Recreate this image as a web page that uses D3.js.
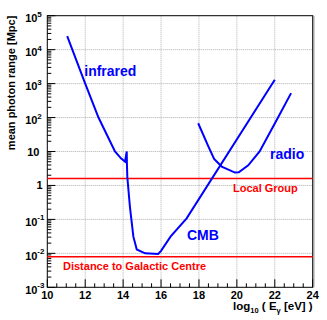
<!DOCTYPE html>
<html>
<head>
<meta charset="utf-8">
<script src="https://cdn.jsdelivr.net/npm/d3@7"></script>
<style>
  body { margin: 0; background: #fff; }
  svg { display: block; font-family: "Liberation Sans", Arial, sans-serif; font-weight: bold; }
</style>
</head>
<body>
<div id="chart"></div>
<script>
// log10(E) in eV and mean photon range in Mpc
const mainE = [11.05, 12.0, 12.7, 13.57, 13.9, 14.1, 14.19, 14.2, 14.22, 14.36, 14.54, 14.72, 15.16, 15.85, 16.0, 16.5, 17.35, 22.0];
const mainRange = [2.5e4, 1.0e3, 100, 10, 6.2, 5.0, 10, 4.5, 1.8, 0.23, 0.031, 0.013, 0.010, 0.0096, 0.0118, 0.031, 0.107, 1300];
const radioE = [17.96, 18.5, 18.8, 19.2, 19.9, 20.1, 20.6, 21.2, 22.1, 22.86];
const radioRange = [68, 14, 6, 3.6, 2.4, 2.45, 3.9, 10, 85, 525];

const refLines = [
  { value: 1.6, label: "Local Group", lx: 233, dy: 13 },
  { value: 0.008, label: "Distance to Galactic Centre", lx: 63, dy: 13 }
];
const bandLabels = [
  { text: "infrared", e: 11.95, v: 1660 },
  { text: "CMB", e: 17.37, v: 0.0245 },
  { text: "radio", e: 21.75, v: 5.9 }
];

const xTicks = [10, 12, 14, 16, 18, 20, 22, 24];
const yExps = [-3, -2, -1, 0, 1, 2, 3, 4, 5];

const W = 327, H = 320;
const pLeft = 47.3, pRight = 312.7, pTop = 15.7, pBottom = 287.3;

const x = d3.scaleLinear().domain([10, 24]).range([pLeft, pRight]);
const y = d3.scaleLog().domain([1e-3, 1e5]).range([pBottom, pTop]);

const svg = d3.select("#chart").append("svg")
    .attr("width", W)
    .attr("height", H);

// grid
xTicks.slice(1, -1).forEach(t => {
    svg.append("line")
        .attr("x1", x(t)).attr("x2", x(t))
        .attr("y1", pTop).attr("y2", pBottom)
        .attr("stroke", "#b0b0b0").attr("stroke-dasharray", "1,1");
});
yExps.slice(1, -1).forEach(e => {
    svg.append("line")
        .attr("x1", pLeft).attr("x2", pRight)
        .attr("y1", y(Math.pow(10, e))).attr("y2", y(Math.pow(10, e)))
        .attr("stroke", "#b0b0b0").attr("stroke-dasharray", "1,1");
});

// x ticks (inside, pointing up)
d3.range(10, 24.01, 0.5).forEach(t => {
    const major = Math.abs(t % 2) < 1e-6;
    svg.append("line")
        .attr("x1", x(t)).attr("x2", x(t))
        .attr("y1", pBottom).attr("y2", pBottom - (major ? 8 : 4))
        .attr("stroke", "#000");
});
xTicks.forEach(t => {
    svg.append("text")
        .attr("x", x(t)).attr("y", 298.5)
        .attr("text-anchor", "middle")
        .style("font-size", "11px")
        .text(t);
});

// y ticks (inside, pointing right)
yExps.forEach(e => {
    const base = Math.pow(10, e);
    svg.append("line")
        .attr("x1", pLeft).attr("x2", pLeft + 8)
        .attr("y1", y(base)).attr("y2", y(base))
        .attr("stroke", "#000");
    if (e < 5) {
        d3.range(2, 10).forEach(m => {
            svg.append("line")
                .attr("x1", pLeft).attr("x2", pLeft + 4)
                .attr("y1", y(base * m)).attr("y2", y(base * m))
                .attr("stroke", "#000");
        });
    }
    const yy = y(base);
    if (e === 0 || e === 1) {
        svg.append("text")
            .attr("x", e === 0 ? 42.5 : 39.5).attr("y", yy + 4)
            .attr("text-anchor", "end")
            .style("font-size", "11px")
            .text(e === 0 ? "1" : "10");
    } else {
        svg.append("text")
            .attr("x", 37.5).attr("y", yy + 6.5)
            .attr("text-anchor", "end")
            .style("font-size", "11px")
            .text("10");
        svg.append("text")
            .attr("x", 37.3).attr("y", yy + 1)
            .attr("text-anchor", "start")
            .style("font-size", "8px")
            .text(e < 0 ? "-" + (-e) : e);
    }
});

// frame
svg.append("rect")
    .attr("x", pLeft).attr("y", pTop)
    .attr("width", pRight - pLeft).attr("height", pBottom - pTop)
    .attr("fill", "none").attr("stroke", "#000");
svg.append("line")
    .attr("x1", pRight + 1.2).attr("x2", pRight + 1.2)
    .attr("y1", pTop).attr("y2", pBottom)
    .attr("stroke", "#888");

// axis titles
svg.append("text")
    .attr("transform", "translate(15," + pTop + ") rotate(-90)")
    .attr("text-anchor", "end")
    .style("font-size", "11px")
    .text("mean photon range [Mpc]");

const xt = svg.append("text")
    .attr("x", pRight).attr("y", 309.5)
    .attr("text-anchor", "end")
    .style("font-size", "11.5px");
xt.append("tspan").text("log");
xt.append("tspan").attr("dy", 3).style("font-size", "7.5px").text("10");
xt.append("tspan").attr("dy", -3).text(" ( E");
xt.append("tspan").attr("dy", 3).style("font-size", "7.5px").text("γ");
xt.append("tspan").attr("dy", -3).text(" [eV] )");

// reference distances
refLines.forEach(r => {
    svg.append("line")
        .attr("x1", pLeft).attr("x2", pRight)
        .attr("y1", y(r.value)).attr("y2", y(r.value))
        .attr("stroke", "#ff0000").attr("stroke-width", 1.5);
    svg.append("text")
        .attr("x", r.lx).attr("y", y(r.value) + r.dy)
        .attr("fill", "#ff0000")
        .style("font-size", "11px")
        .text(r.label);
});

// curves
const line = d3.line()
    .x(d => x(d[0]))
    .y(d => y(d[1]));

svg.append("path")
    .datum(d3.zip(mainE, mainRange))
    .attr("fill", "none").attr("stroke", "#0000ff").attr("stroke-width", 2)
    .attr("d", line);
svg.append("path")
    .datum(d3.zip(radioE, radioRange))
    .attr("fill", "none").attr("stroke", "#0000ff").attr("stroke-width", 2)
    .attr("d", line);

bandLabels.forEach(b => {
    svg.append("text")
        .attr("x", x(b.e)).attr("y", y(b.v))
        .attr("fill", "#0000ff")
        .style("font-size", "14px")
        .text(b.text);
});
</script>
</body>
</html>
